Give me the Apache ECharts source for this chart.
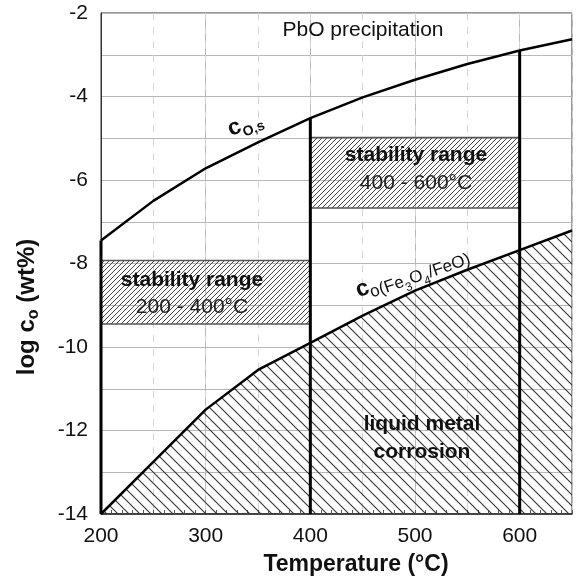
<!DOCTYPE html>
<html><head><meta charset="utf-8">
<script src="https://cdn.jsdelivr.net/npm/echarts@6/dist/echarts.min.js"></script>
<style>html,body{margin:0;padding:0;background:#fff}#c{width:577px;height:579px}</style>
</head><body><div id="c"></div>
<script>
// ---- data ----
const temps = [200, 250, 300, 350, 400, 450, 500, 550, 600, 650];
const cOs = [-7.45, -6.5, -5.72, -5.1, -4.52, -4.02, -3.6, -3.22, -2.9, -2.63];
const cFeO = [-14, -12.75, -11.5, -10.55, -9.9, -9.25, -8.65, -8.15, -7.68, -7.21];
const verticalTemps = [200, 400, 600];
// stability boxes: [tMin, tMax, logTop, logBottom]
const box1 = [200, 400, -7.93, -9.45];
const box2 = [400, 600, -4.98, -6.67];
const xTickLabels = [200, 300, 400, 500, 600];
const yTickLabels = [-2, -4, -6, -8, -10, -12, -14];

const FONT = '"Liberation Sans", Arial, sans-serif';

function hatch(size, dir, color, width) {
  const c = document.createElement('canvas');
  c.width = size; c.height = size;
  const g = c.getContext('2d');
  g.strokeStyle = color; g.lineWidth = width;
  for (let k = -1; k <= 1; k++) {
    g.beginPath();
    if (dir === 'back') { g.moveTo(k * size - 1, -1); g.lineTo(k * size + size + 1, size + 1); }
    else { g.moveTo(k * size - 1, size + 1); g.lineTo(k * size + size + 1, -1); }
    g.stroke();
  }
  return { image: c, repeat: 'repeat' };
}
const hatchCorrosion = hatch(11, 'back', '#333', 1.1);
const hatchBox = hatch(5, 'fwd', '#444', 1);

const chart = echarts.init(document.getElementById('c'));
const gridL = 101, gridR = 5, gridT = 13, gridB = 65;

const vertSeries = verticalTemps.map(t => ({
  type: 'line', xAxisIndex: 0, symbol: 'none', silent: true, z: 6,
  lineStyle: { color: '#000', width: 3 },
  data: [[t, -14], [t, cOs[temps.indexOf(t)]]]
}));

chart.setOption({
  animation: false,
  backgroundColor: '#fff',
  grid: { left: gridL, right: gridR, top: gridT, bottom: gridB, show: true, borderColor: '#333', borderWidth: 1 },
  xAxis: [
    { type: 'value', min: 200, max: 650, interval: 100, position: 'bottom',
      axisLine: { show: true, onZero: false, lineStyle: { color: '#222', width: 1.5 } },
      axisTick: { show: false },
      axisLabel: { fontSize: 21, color: '#111', fontFamily: FONT, margin: 12,
        formatter: v => xTickLabels.includes(v) ? String(v) : '' },
      splitLine: { show: true, lineStyle: { color: '#b8b8b8', width: 1 } } },
    { type: 'value', min: 200, max: 650, interval: 50, position: 'bottom',
      axisLine: { show: false }, axisTick: { show: false }, axisLabel: { show: false },
      splitLine: { show: true, lineStyle: { color: '#d4d4d4', width: 1, type: [7, 7] } } },
    { type: 'value', min: 200, max: 650, interval: 10, position: 'bottom',
      axisLine: { show: false }, axisLabel: { show: false }, splitLine: { show: false },
      axisTick: { show: true, inside: true, length: 4, lineStyle: { color: '#555', width: 1 } } }
  ],
  yAxis: {
    type: 'value', min: -14, max: -2, interval: 1,
    axisLine: { show: true, onZero: false, lineStyle: { color: '#333', width: 1 } },
    axisTick: { show: false },
    axisLabel: { fontSize: 21, color: '#111', fontFamily: FONT, margin: 13,
      formatter: v => yTickLabels.includes(v) ? String(v) : '' },
    splitLine: { show: true, lineStyle: { color: '#b8b8b8', width: 1 } }
  },
  series: [
    { type: 'line', xAxisIndex: 0, symbol: 'none', silent: true, z: 3,
      lineStyle: { color: '#000', width: 2.5 },
      areaStyle: { origin: 'start', color: hatchCorrosion, opacity: 1 },
      data: temps.map((t, i) => [t, cFeO[i]]) },
    { type: 'line', xAxisIndex: 0, symbol: 'none', silent: true, z: 5,
      lineStyle: { color: '#000', width: 2.5 },
      data: temps.map((t, i) => [t, cOs[i]]) },
    { type: 'custom', xAxisIndex: 0, silent: true, z: 4,
      data: [box1, box2],
      renderItem: (params, api) => {
        const p0 = api.coord([api.value(0), api.value(2)]);
        const p1 = api.coord([api.value(1), api.value(3)]);
        return { type: 'group', children: [
          { type: 'rect', shape: { x: p0[0], y: p0[1], width: p1[0] - p0[0], height: p1[1] - p0[1] },
            style: { fill: hatchBox, stroke: null } },
          { type: 'line', shape: { x1: p0[0], y1: p0[1], x2: p1[0], y2: p0[1] }, style: { stroke: '#555', lineWidth: 1.5 } },
          { type: 'line', shape: { x1: p0[0], y1: p1[1], x2: p1[0], y2: p1[1] }, style: { stroke: '#555', lineWidth: 1.5 } }
        ] };
      } },
    ...vertSeries
  ],
  graphic: [
    { type: 'text', x: 363, y: 30, z: 20, style: { text: 'PbO precipitation', font: '21px ' + FONT, fill: '#111', align: 'center', verticalAlign: 'middle' } },
    { type: 'text', x: 416, y: 155, z: 20, style: { text: 'stability range', font: 'bold 21px ' + FONT, fill: '#111', align: 'center', verticalAlign: 'middle' } },
    { type: 'text', x: 416, y: 183, z: 20, style: { text: '400 - 600°C', font: '21px ' + FONT, fill: '#222', align: 'center', verticalAlign: 'middle' } },
    { type: 'text', x: 192, y: 280, z: 20, style: { text: 'stability range', font: 'bold 21px ' + FONT, fill: '#111', align: 'center', verticalAlign: 'middle' } },
    { type: 'text', x: 192, y: 307, z: 20, style: { text: '200 - 400°C', font: '21px ' + FONT, fill: '#222', align: 'center', verticalAlign: 'middle' } },
    { type: 'text', x: 422, y: 424, z: 20, style: { text: 'liquid metal', font: 'bold 21px ' + FONT, fill: '#111', align: 'center', verticalAlign: 'middle' } },
    { type: 'text', x: 422, y: 452, z: 20, style: { text: 'corrosion', font: 'bold 21px ' + FONT, fill: '#111', align: 'center', verticalAlign: 'middle' } },
    { type: 'text', x: 356, y: 565, z: 20, style: { text: 'Temperature (°C)', font: 'bold 23px ' + FONT, fill: '#111', align: 'center', verticalAlign: 'middle' } },
    { type: 'text', x: 27, y: 307, rotation: Math.PI / 2, z: 20,
      style: { text: '{a|log c}{s|o}{a| (wt%)}', align: 'center', verticalAlign: 'middle',
        rich: { a: { font: 'bold 24px ' + FONT, fill: '#111' }, s: { font: 'bold 16px ' + FONT, fill: '#111', padding: [14, 0, 0, 0] } } } },
    { type: 'text', x: 245, y: 124, rotation: 21 * Math.PI / 180, z: 20,
      style: { text: '{a|c}{s|O,s}', align: 'center', verticalAlign: 'middle',
        rich: { a: { font: 'bold 23px ' + FONT, fill: '#111' }, s: { font: 'bold 14px ' + FONT, fill: '#111', padding: [16, 0, 0, 0] } } } },
    { type: 'text', x: 412, y: 272, rotation: 19 * Math.PI / 180, z: 20,
      style: { text: '{a|c}{s|o(Fe}{t|3}{s|O}{t|4}{s|/FeO)}', align: 'center', verticalAlign: 'middle',
        rich: { a: { font: 'bold 23px ' + FONT, fill: '#111' },
                s: { font: '17px ' + FONT, fill: '#111', padding: [13, 0, 0, 0] },
                t: { font: '12px ' + FONT, fill: '#111', padding: [27, 0, 0, 0] } } } }
  ]
});
</script></body></html>
